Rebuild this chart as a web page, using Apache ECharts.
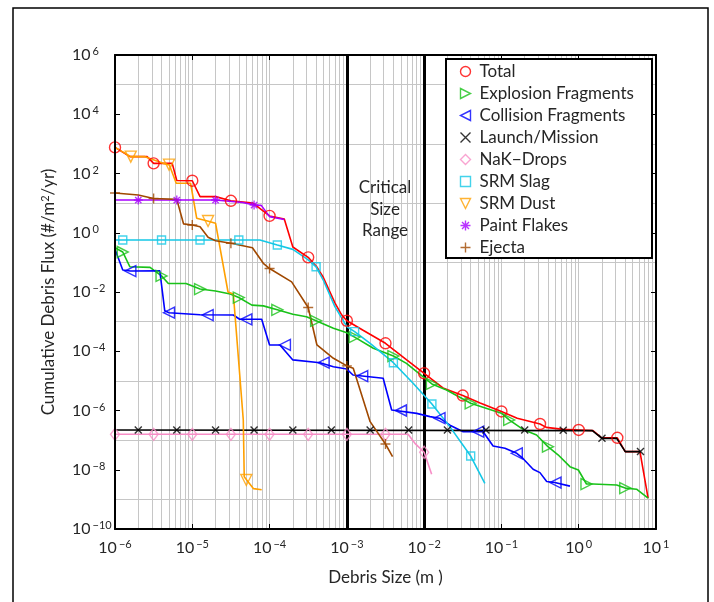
<!DOCTYPE html>
<html lang="en">
<head>
<meta charset="UTF-8">
<title>Cumulative Debris Flux</title>
<script src="https://cdn.jsdelivr.net/npm/echarts@6/dist/echarts.min.js"></script>
<style>
  html, body { margin: 0; padding: 0; background: #fff; }
  #main { width: 714px; height: 602px; }
</style>
</head>
<body>
<div id="main"></div>
<script>
// [debris size (m), flux (#/m^2/yr)]
var totalLine = [[1e-6,760],[1.56e-6,370],[2.6e-6,370],[3.16e-6,220],[5.5e-6,220],[6.3e-6,58],[1e-5,57],[1.26e-5,16.6],[2e-5,16.6],[3.16e-5,12],[6.1e-5,10],[1e-4,3.7],[1.55e-4,2.9],[2e-4,0.33],[3.16e-4,0.148],[4.1e-4,0.069],[4.9e-4,0.033],[7e-4,4.3e-3],[8.6e-4,1.67e-3],[1e-3,1.07e-3],[1.6e-3,5.2e-4],[3.16e-3,1.86e-4],[6e-3,5e-5],[1e-2,1.8e-5],[1.75e-2,5.8e-6],[3.16e-2,3.2e-6],[5.3e-2,1.8e-6],[0.1,9.3e-7],[0.16,5.5e-7],[0.316,3.5e-7],[0.38,2.7e-7],[0.63,2.3e-7],[1,2.2e-7],[1.53,2.1e-7],[1.98,1.2e-7],[3.16,1.2e-7],[4.0,4.1e-8],[6.2,4.1e-8],[7.9,1.1e-9]];
var totalMarks = [[1e-6,760],[3.16e-6,220],[1e-5,57],[3.16e-5,12],[1e-4,3.7],[3.16e-4,0.148],[1e-3,1.07e-3],[3.16e-3,1.86e-4],[1e-2,1.8e-5],[3.16e-2,3.2e-6],[0.1,9.3e-7],[0.316,3.5e-7],[1,2.2e-7],[3.16,1.2e-7]];

var explosionLine = [[1e-6,0.31],[1.26e-6,0.224],[1.56e-6,0.071],[2.84e-6,0.068],[4e-6,0.035],[4.9e-6,0.0194],[8.3e-6,0.0194],[1.26e-5,0.0126],[2e-5,0.0108],[3.1e-5,8.6e-3],[4e-5,6.5e-3],[5.9e-5,3.6e-3],[8.3e-5,3.4e-3],[1.26e-4,2.5e-3],[2e-4,1.77e-3],[3e-4,1.47e-3],[4e-4,1.07e-3],[6.7e-4,6e-4],[1e-3,4.2e-4],[1.26e-3,3.0e-4],[2.2e-3,1.26e-4],[4e-3,6.9e-5],[5.9e-3,3.9e-5],[1.26e-2,7.9e-6],[1.95e-2,4.9e-6],[4e-2,1.75e-6],[0.1,8.1e-7],[0.126,4.8e-7],[0.19,2.3e-7],[0.285,1.49e-7],[0.4,6e-8],[0.54,3.2e-8],[0.77,1.27e-8],[0.99,9.8e-9],[1.26,3.3e-9],[1.53,3.3e-9],[3.1,3.05e-9],[4.0,2.4e-9],[5.6,2.2e-9],[7.9,1.1e-9]];
var explosionMarks = [[1.26e-6,0.224],[4e-6,0.035],[1.26e-5,0.0126],[4e-5,6.5e-3],[1.26e-4,2.5e-3],[4e-4,1.07e-3],[1.26e-3,3.0e-4],[4e-3,6.9e-5],[1.26e-2,7.9e-6],[4e-2,1.75e-6],[0.126,4.8e-7],[0.4,6e-8],[1.26,3.3e-9],[4.0,2.4e-9]];

var collisionLine = [[1e-6,0.276],[1.26e-6,0.055],[1.58e-6,0.051],[3.8e-6,0.052],[4.4e-6,2.34e-3],[5e-6,2e-3],[1.26e-5,1.71e-3],[3.4e-5,1.67e-3],[4.1e-5,1.2e-3],[7.9e-5,1.2e-3],[1e-4,1.63e-4],[1.36e-4,1.63e-4],[2e-4,5.1e-5],[4.5e-4,4.1e-5],[6.7e-4,3.0e-5],[1e-3,2.5e-5],[1.2e-3,1.58e-5],[1.58e-3,1.46e-5],[2.95e-3,1.22e-5],[3.8e-3,1.04e-6],[8e-3,8e-7],[1.19e-2,6.2e-7],[1.58e-2,5.5e-7],[2.16e-2,3.2e-7],[3.2e-2,1.92e-7],[5.8e-2,1.92e-7],[7.8e-2,6.3e-8],[0.111,5.3e-8],[0.158,3.6e-8],[0.19,2.4e-8],[0.257,1.04e-8],[0.315,8e-9],[0.385,4e-9],[0.49,3.7e-9],[0.77,2.8e-9]];
var collisionMarks = [[1.58e-6,0.051],[5e-6,2e-3],[1.58e-5,1.67e-3],[5e-5,1.2e-3],[1.58e-4,1.63e-4],[5e-4,4.1e-5],[1.58e-3,1.46e-5],[5e-3,1.0e-6],[1.58e-2,5.5e-7],[5e-2,1.92e-7],[0.158,3.6e-8],[0.5,3.7e-9]];

var launchLine = [[1e-6,2.2e-7],[1.5,2.1e-7],[2.0,1.15e-7],[3.1,1.15e-7],[4.0,4.1e-8],[6.3,4.1e-8]];
var launchMarks = [[2e-6,2.2e-7],[6.3e-6,2.2e-7],[2e-5,2.2e-7],[6.3e-5,2.2e-7],[2e-4,2.2e-7],[6.3e-4,2.2e-7],[2e-3,2.2e-7],[6.3e-3,2.2e-7],[2e-2,2.2e-7],[6.3e-2,2.2e-7],[0.2,2.2e-7],[0.63,2.15e-7],[2.0,1.15e-7],[6.3,4.1e-8]];

var nakLine = [[1e-6,1.57e-7],[6.2e-3,1.57e-7],[7.6e-3,7.8e-8],[1e-2,3.9e-8],[1.25e-2,7e-9]];
var nakMarks = [[1e-6,1.57e-7],[3.16e-6,1.57e-7],[1e-5,1.57e-7],[3.16e-5,1.57e-7],[1e-4,1.57e-7],[3.16e-4,1.57e-7],[1e-3,1.57e-7],[3.16e-3,1.57e-7],[1e-2,3.9e-8]];

var slagLine = [[1e-6,0.57],[7.5e-5,0.57],[1.26e-4,0.385],[2e-4,0.275],[3.1e-4,0.126],[4e-4,0.071],[4.95e-4,0.0254],[7e-4,3.2e-3],[1e-3,6.8e-4],[1.26e-3,4.6e-4],[2e-3,1.86e-4],[4e-3,4.1e-5],[7.2e-3,8.3e-6],[1.26e-2,1.66e-6],[2.16e-2,2.8e-7],[4e-2,2.9e-8],[6.1e-2,3.5e-9]];
var slagMarks = [[1.26e-6,0.57],[4e-6,0.57],[1.26e-5,0.57],[4e-5,0.57],[1.26e-4,0.385],[4e-4,0.071],[1.26e-3,4.6e-4],[4e-3,4.1e-5],[1.26e-2,1.66e-6],[4e-2,2.9e-8]];

var dustLine = [[1e-6,760],[1.6e-6,370],[2.44e-6,370],[4.2e-6,220],[5.05e-6,194],[6.2e-6,47],[9.5e-6,47],[1.14e-5,3.1],[1.57e-5,2.5],[2e-5,2.1],[2.9e-5,1e-2],[3.4e-5,8.5e-3],[4.57e-5,4.8e-7],[4.7e-5,5.8e-9],[5.06e-5,4.5e-9],[6.2e-5,2.3e-9],[7.9e-5,2.1e-9]];
var dustMarks = [[1.6e-6,370],[5e-6,200],[1.6e-5,2.5],[5e-5,4.5e-9]];

var paintLine = [[1e-6,12.7],[2e-5,12.7],[4.5e-5,10.5],[6.3e-5,8.6],[7.8e-5,8.4],[1e-4,3.5],[1.55e-4,2.8]];
var paintMarks = [[2e-6,12.7],[6.3e-6,12.7],[2e-5,12.7],[6.3e-5,8.6]];

var ejectaLine = [[1e-6,22],[2e-6,18.8],[3.16e-6,14.3],[6.3e-6,13.4],[7.7e-6,2.0],[1e-5,1.83],[1.26e-5,1.6],[1.6e-5,0.70],[2e-5,0.54],[3.16e-5,0.44],[6e-5,0.31],[8.3e-5,0.093],[1e-4,0.062],[1.93e-4,0.022],[3.16e-4,3.0e-3],[4.1e-4,1.63e-4],[6.7e-4,5.8e-5],[1e-3,3.2e-5],[1.21e-3,2.65e-5],[2e-3,4.2e-7],[3.16e-3,7.4e-8],[3.9e-3,2.75e-8]];
var ejectaMarks = [[1e-6,22],[3.16e-6,14.3],[1e-5,1.83],[3.16e-5,0.44],[1e-4,0.062],[3.16e-4,3.0e-3],[1e-3,3.2e-5],[3.16e-3,7.4e-8]];

// critical size range edges (m)
var criticalSizes = [1e-3, 1e-2];

var names = ['Total','Explosion Fragments','Collision Fragments','Launch/Mission','NaK\u2212Drops','SRM Slag','SRM Dust','Paint Flakes','Ejecta'];
var lines = [totalLine, explosionLine, collisionLine, launchLine, nakLine, slagLine, dustLine, paintLine, ejectaLine];
var marks = [totalMarks, explosionMarks, collisionMarks, launchMarks, nakMarks, slagMarks, dustMarks, paintMarks, ejectaMarks];
var colors = ['#ff0000','#19c219','#0000ff','#000000','#f78dc6','#14c8e6','#ffa000','#a800ff','#a04800'];
var symbols = [
    'circle',
    'path://M0,0L10,5L0,10Z',
    'path://M10,0L0,5L10,10Z',
    'path://M0,0L10,10M10,0L0,10',
    'diamond',
    'rect',
    'path://M0,0L10,0L5,10Z',
    'path://M5,0L5,10M0,5L10,5M1.5,1.5L8.5,8.5M8.5,1.5L1.5,8.5',
    'path://M5,0L5,10M0,5L10,5'
];
var sizes = [11, 11, 11, 7, [9, 12], 8, 11, 9, 10];

var textColor = '#262626';
var font = 'Lato';

var chart = echarts.init(document.getElementById('main'), null, {renderer: 'canvas'});

// grid lines: every 1..9 x decade on size axis, odd decades on flux axis
var xGrid = [];
for (var n = -6; n <= 0; n++) {
    for (var k = 1; k <= 9; k++) {
        if (n === -6 && k === 1) continue;
        xGrid.push({xAxis: k * Math.pow(10, n)});
    }
}
var yGrid = [];
for (var m = -9; m <= 5; m += 2) {
    yGrid.push({yAxis: Math.pow(10, m)});
}

function expLabel(v) {
    var s = v < 0 ? '\u2212' + (-v) : String(v);
    return '{b|10}{e|' + s + '}';
}
var labelRich = {
    b: {fontSize: 16, fontFamily: font, color: textColor, lineHeight: 18},
    e: {fontSize: 11, fontFamily: font, color: textColor, verticalAlign: 'top', padding: [0, 0, 0, 2], lineHeight: 18}
};

var series = [];
series.push({
    type: 'line', name: 'grid', data: [], silent: true, z: 1,
    markLine: {
        silent: true, symbol: 'none', z: 1, animation: false, precision: 15,
        label: {show: false},
        lineStyle: {color: '#c6c6c6', width: 1, type: 'solid'},
        emphasis: {disabled: true},
        data: xGrid.concat(yGrid)
    }
});
series.push({
    type: 'line', name: 'critical', data: [], silent: true, z: 2,
    markLine: {
        silent: true, symbol: 'none', z: 2, animation: false, precision: 15,
        label: {show: false},
        lineStyle: {color: '#000', width: 3, type: 'solid'},
        emphasis: {disabled: true},
        data: criticalSizes.map(function (v) { return {xAxis: v}; })
    }
});

names.forEach(function (name, i) {
    series.push({
        type: 'line', name: name + ' line', data: lines[i],
        showSymbol: false, symbol: 'none', silent: true, z: 3,
        lineStyle: {color: colors[i], width: 1.6},
        itemStyle: {color: colors[i]}
    });
});
names.forEach(function (name, i) {
    series.push({
        type: 'scatter', name: name, data: marks[i],
        symbol: symbols[i], symbolSize: sizes[i], silent: true, z: 4,
        itemStyle: {color: 'none', borderColor: colors[i], borderWidth: 1.4}
    });
});

var option = {
    animation: false,
    backgroundColor: '#fff',
    textStyle: {fontFamily: font},
    grid: {left: 115, top: 55, right: 58, bottom: 73, containLabel: false, outerBoundsMode: 'none'},
    xAxis: [
        {type: 'log', logBase: 10, min: 1e-6, max: 10, show: false},
        {
            type: 'value', min: -6, max: 1, interval: 1, position: 'bottom', z: 10,
            name: 'Debris Size (m )', nameLocation: 'middle', nameGap: 40,
            nameTextStyle: {fontSize: 17, color: textColor, fontFamily: font},
            axisLine: {show: true, onZero: false, lineStyle: {color: '#000', width: 2}},
            axisTick: {show: true, inside: true, length: 5, lineStyle: {color: '#000', width: 1}},
            splitLine: {show: false},
            axisLabel: {margin: 10, formatter: expLabel, rich: labelRich}
        },
        {
            type: 'value', min: -6, max: 1, interval: 1, position: 'top', z: 10,
            axisLine: {show: true, onZero: false, lineStyle: {color: '#000', width: 2}},
            axisTick: {show: true, inside: true, length: 5, lineStyle: {color: '#000', width: 1}},
            splitLine: {show: false},
            axisLabel: {show: false}
        }
    ],
    yAxis: [
        {type: 'log', logBase: 10, min: 1e-10, max: 1e6, show: false},
        {
            type: 'value', min: -10, max: 6, interval: 2, position: 'left', z: 10,
            name: 'Cumulative Debris Flux (#/m{s|2}/yr)', nameLocation: 'middle', nameGap: 58,
            nameTextStyle: {
                fontSize: 17, color: textColor, fontFamily: font,
                rich: {s: {fontSize: 11, color: textColor, fontFamily: font, verticalAlign: 'top', lineHeight: 17}}
            },
            axisLine: {show: true, onZero: false, lineStyle: {color: '#000', width: 2}},
            axisTick: {show: true, inside: true, length: 5, lineStyle: {color: '#000', width: 1}},
            splitLine: {show: false},
            axisLabel: {margin: 43, align: 'left', formatter: expLabel, rich: labelRich}
        },
        {
            type: 'value', min: -10, max: 6, interval: 2, position: 'right', z: 10,
            axisLine: {show: true, onZero: false, lineStyle: {color: '#000', width: 2}},
            axisTick: {show: true, inside: true, length: 5, lineStyle: {color: '#000', width: 1}},
            splitLine: {show: false},
            axisLabel: {show: false}
        }
    ],
    legend: {
        orient: 'vertical', left: 458, top: 63, padding: 0, z: 100,
        itemWidth: 10, itemHeight: 10, itemGap: 5,
        selectedMode: false,
        itemStyle: {borderWidth: 1.4},
        textStyle: {fontSize: 17, lineHeight: 17, color: textColor, fontFamily: font, padding: [0, 0, 0, 4]},
        data: names.map(function (name, i) {
            return {name: name, icon: symbols[i]};
        })
    },
    graphic: [
        {
            type: 'rect', z: 90, silent: true,
            shape: {x: 446, y: 59, width: 206, height: 199},
            style: {fill: '#fff', stroke: '#000', lineWidth: 2}
        },
        {
            type: 'text', z: 95, silent: true,
            style: {
                x: 385, y: 177, text: 'Critical\nSize\nRange', align: 'center', verticalAlign: 'top',
                fontSize: 17, lineHeight: 21.5, fontFamily: font, fill: textColor
            }
        },
        {
            type: 'rect', z: 0, silent: true,
            shape: {x: 13, y: 8, width: 695, height: 620},
            style: {fill: 'none', stroke: '#000', lineWidth: 1.5}
        }
    ],
    series: series
};

chart.setOption(option);
</script>
</body>
</html>
